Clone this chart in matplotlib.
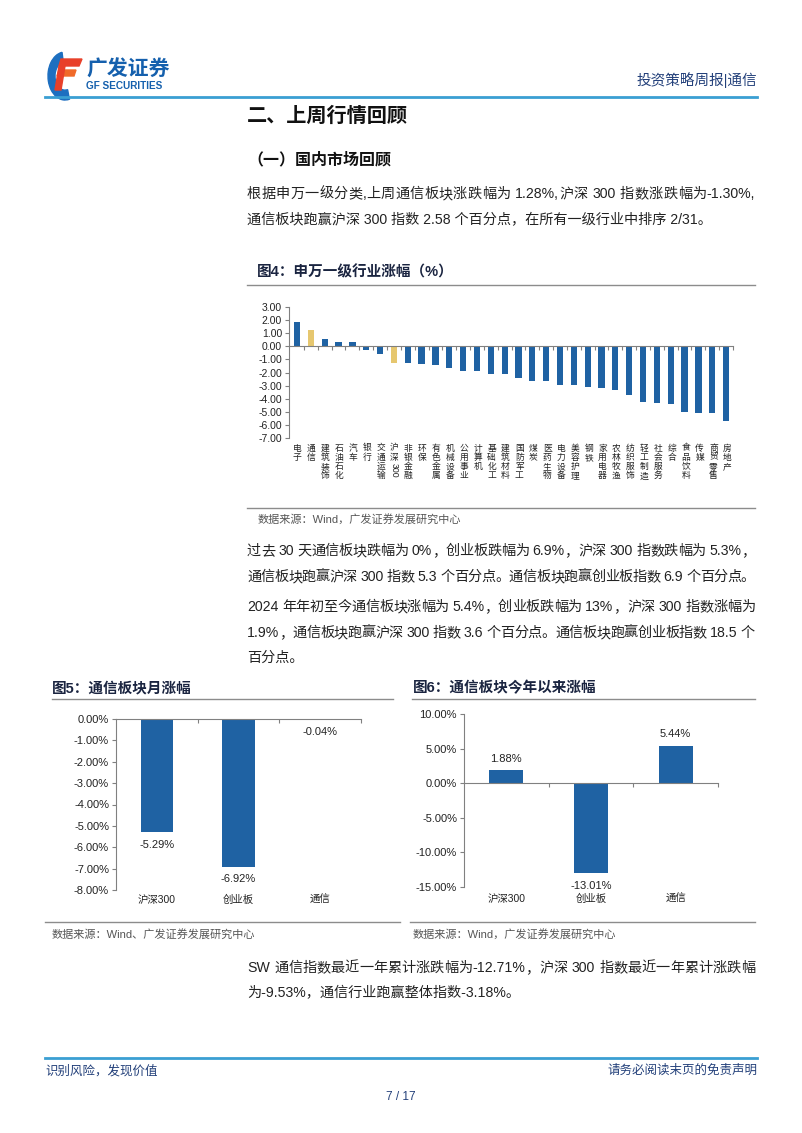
import matplotlib
matplotlib.use("Agg")
import matplotlib.pyplot as plt
from matplotlib.patches import Polygon, Wedge
from matplotlib.ticker import FuncFormatter
from matplotlib.lines import Line2D

plt.rcParams['font.family'] = ['Liberation Sans', 'Noto Sans CJK SC', 'DejaVu Sans']

W, H = 802, 1133

# 图4 申万一级行业涨幅
industries = ['电子', '通信', '建筑装饰', '石油石化', '汽车', '银行', '交通运输', '沪深300',
              '非银金融', '环保', '有色金属', '机械设备', '公用事业', '计算机', '基础化工',
              '建筑材料', '国防军工', '煤炭', '医药生物', '电力设备', '美容护理', '钢铁',
              '家用电器', '农林牧渔', '纺织服饰', '轻工制造', '社会服务', '综合', '食品饮料',
              '传媒', '商贸零售', '房地产']
weekly_pct = [1.85, 1.28, 0.53, 0.35, 0.35, -0.25, -0.58, -1.30,
              -1.30, -1.35, -1.40, -1.68, -1.85, -1.90, -2.10,
              -2.15, -2.40, -2.62, -2.68, -2.92, -2.98, -3.13,
              -3.22, -3.30, -3.70, -4.22, -4.30, -4.42, -4.98,
              -5.08, -5.12, -5.70]
highlight = ['通信', '沪深300']

# 图5 / 图6
groups = ['沪深300', '创业板', '通信']
month_pct = [-5.29, -6.92, -0.04]
ytd_pct = [1.88, -13.01, 5.44]

BLUE = '#1f62a3'
GOLD = '#e6c76f'
TXT = '#222222'
NAVY = '#23407a'
AX = '#808080'


def fx(x):
    return x / W


def fy(y):
    return 1 - y / H


def add_ax(fig, x0, y0, x1, y1):
    return fig.add_axes([fx(x0), fy(y1), (x1 - x0) / W, (y1 - y0) / H])


def text(fig, x, y, s, size=10.2, **kw):
    kw.setdefault('color', TXT)
    kw.setdefault('va', 'center')
    return fig.text(fx(x), fy(y), s, fontsize=size, **kw)


def justify(fig, x0, x1, y, s, size=10.2):
    """spread one line of body text from x0 to x1, like the justified pdf text"""
    r = fig.canvas.get_renderer()
    toks = []
    buf = ''
    for ch in s:
        if ord(ch) < 128 and ch != ' ':
            buf += ch
        else:
            if buf:
                toks.append(buf)
                buf = ''
            toks.append(ch)
    if buf:
        toks.append(buf)
    arts, widths = [], []
    for t in toks:
        if t == ' ':
            arts.append(None)
            widths.append(size * 100 / 72 * 0.28)
        else:
            a = text(fig, 0, y, t, size=size)
            arts.append(a)
            widths.append(a.get_window_extent(r).width)
    gap = (x1 - x0 - sum(widths)) / (len(toks) - 1)
    x = x0
    for a, w in zip(arts, widths):
        if a is not None:
            a.set_x(fx(x))
        x += w + gap


def hline(fig, x0, x1, y, color='#8c8c8c', lw=1.0):
    fig.add_artist(Line2D([fx(x0), fx(x1)], [fy(y), fy(y)], color=color, lw=lw))


def style_axes(ax):
    for side in ['top', 'right']:
        ax.spines[side].set_visible(False)
    ax.spines['left'].set_color(AX)
    ax.spines['bottom'].set_color(AX)
    ax.spines['left'].set_linewidth(0.8)
    ax.spines['bottom'].set_linewidth(0.8)
    ax.spines['bottom'].set_position(('data', 0))
    ax.tick_params(axis='y', direction='out', length=3, color=AX, pad=2)
    ax.tick_params(axis='x', direction='out', length=3, color=AX, labelbottom=False)
    ax.patch.set_alpha(0)


fig = plt.figure(figsize=(W / 100, H / 100), dpi=100)

# ---- header
fig.add_artist(Wedge((fx(65), fy(76)), 17 / W, 100, 285, width=7 / W,
                     transform=fig.transFigure, color='#1d6fc0'))
fig.add_artist(Polygon([(fx(61), fy(59)), (fx(82), fy(59)), (fx(79), fy(66)), (fx(59), fy(66))],
                       closed=True, transform=fig.transFigure, color='#e8402a'))
fig.add_artist(Polygon([(fx(59), fy(70)), (fx(76), fy(70)), (fx(74), fy(76)), (fx(57), fy(76))],
                       closed=True, transform=fig.transFigure, color='#f06a2a'))
fig.add_artist(Polygon([(fx(59), fy(66)), (fx(65), fy(66)), (fx(61), fy(90)), (fx(55), fy(90))],
                       closed=True, transform=fig.transFigure, color='#e8402a'))
text(fig, 86, 70, '广发证券', size=15, color='#1560ad', weight='bold')
text(fig, 86, 86, 'GF SECURITIES', size=7.2, color='#1560ad', weight='bold')
text(fig, 757, 80, '投资策略周报|通信', size=10.5, color=NAVY, ha='right')
hline(fig, 45, 757, 97, color='#3a9fd3', lw=2)

# ---- section text
text(fig, 247, 116, '二、上周行情回顾', size=14.5, weight='bold', color='#111111')
text(fig, 247, 160, '（一）国内市场回顾', size=11.5, weight='bold', color='#111111')
justify(fig, 247, 755, 194, '根据申万一级分类,上周通信板块涨跌幅为 1.28%,沪深 300 指数涨跌幅为-1.30%,')
text(fig, 247, 220, '通信板块跑赢沪深 300 指数 2.58 个百分点，在所有一级行业中排序 2/31。')

text(fig, 257, 272, '图4：申万一级行业涨幅（%）', size=10.5, weight='bold', color='#1a2440')
hline(fig, 247, 755, 285)

# ---- 图4
ax = add_ax(fig, 289, 307, 733, 438)
xs = list(range(len(industries)))
colors = [GOLD if name in highlight else BLUE for name in industries]
ax.bar(xs, weekly_pct, width=0.45, color=colors)
ax.set_xlim(-0.58, len(industries) - 0.55)
ax.set_ylim(-7, 3)
ax.set_yticks(range(-7, 4))
ax.yaxis.set_major_formatter(FuncFormatter(lambda v, p: f'{v:.2f}'))
ax.set_xticks([i + 0.5 for i in xs])
style_axes(ax)
ax.tick_params(axis='y', labelsize=7.5, labelcolor=TXT)

step = 9.3
for i, name in enumerate(industries):
    xc = 297 + i * (733 - 289) / len(industries) + 0.3
    cjk = [c for c in name if not c.isdigit()]
    digits = ''.join(c for c in name if c.isdigit())
    for k, ch in enumerate(cjk):
        text(fig, xc, 448 + k * step, ch, size=6.3, ha='center')
    if digits:
        text(fig, xc, 448 + len(cjk) * step - 4, digits, size=6.3, ha='center',
             va='top', rotation=270)

hline(fig, 247, 755, 508)
text(fig, 258, 519, '数据来源：Wind，广发证券发展研究中心', size=8, color='#555555')

justify(fig, 247, 755, 551, '过去 30 天通信板块跌幅为 0%，创业板跌幅为 6.9%，沪深 300 指数跌幅为 5.3%，')
justify(fig, 247, 755, 577, '通信板块跑赢沪深 300 指数 5.3 个百分点。通信板块跑赢创业板指数 6.9 个百分点。')
justify(fig, 247, 755, 607, '2024 年年初至今通信板块涨幅为 5.4%，创业板跌幅为 13%，沪深 300 指数涨幅为')
justify(fig, 247, 755, 633, '1.9%，通信板块跑赢沪深 300 指数 3.6 个百分点。通信板块跑赢创业板指数 18.5 个')
text(fig, 247, 658, '百分点。')

# ---- 图5
text(fig, 52, 688, '图5：通信板块月涨幅', size=10.5, weight='bold', color='#1a2440')
hline(fig, 52, 393, 699)
ax5 = add_ax(fig, 116, 719, 361, 890)
gx = list(range(len(groups)))
ax5.bar(gx, month_pct, width=0.4, color=BLUE)
ax5.set_xlim(-0.5, 2.5)
ax5.set_ylim(-8, 0)
ax5.set_yticks(range(-8, 1))
ax5.yaxis.set_major_formatter(FuncFormatter(lambda v, p: f'{v:.2f}%'))
ax5.set_xticks([0.5, 1.5, 2.5])
style_axes(ax5)
ax5.tick_params(axis='y', labelsize=8, labelcolor=TXT)
for i, v in enumerate(month_pct):
    ax5.annotate(f'{v:.2f}%', (i, v), xytext=(0, -9), textcoords='offset points',
                 ha='center', va='center', fontsize=8, color=TXT)
    ax5.text(i, -0.06, groups[i], transform=ax5.get_xaxis_transform(),
             ha='center', va='center', fontsize=7.5, color=TXT)

# ---- 图6
text(fig, 413, 688, '图6：通信板块今年以来涨幅', size=10.5, weight='bold', color='#1a2440')
hline(fig, 412, 755, 699)
ax6 = add_ax(fig, 464, 714, 718, 887)
ax6.bar(gx, ytd_pct, width=0.4, color=BLUE)
ax6.set_xlim(-0.5, 2.5)
ax6.set_ylim(-15, 10)
ax6.set_yticks(range(-15, 11, 5))
ax6.yaxis.set_major_formatter(FuncFormatter(lambda v, p: f'{v:.2f}%'))
ax6.set_xticks([0.5, 1.5, 2.5])
style_axes(ax6)
ax6.tick_params(axis='y', labelsize=8, labelcolor=TXT)
for i, v in enumerate(ytd_pct):
    off = 8 if v > 0 else -9
    ax6.annotate(f'{v:.2f}%', (i, v), xytext=(0, off), textcoords='offset points',
                 ha='center', va='center', fontsize=8, color=TXT)
    ax6.text(i, -0.07, groups[i], transform=ax6.get_xaxis_transform(),
             ha='center', va='center', fontsize=7.5, color=TXT)

hline(fig, 45, 400, 922)
hline(fig, 410, 755, 922)
text(fig, 52, 934, '数据来源：Wind、广发证券发展研究中心', size=8, color='#555555')
text(fig, 413, 934, '数据来源：Wind，广发证券发展研究中心', size=8, color='#555555')

justify(fig, 247, 755, 968, 'SW 通信指数最近一年累计涨跌幅为-12.71%，沪深 300 指数最近一年累计涨跌幅')
text(fig, 247, 993, '为-9.53%，通信行业跑赢整体指数-3.18%。')

# ---- footer
hline(fig, 45, 757, 1058, color='#3a9fd3', lw=2)
text(fig, 45, 1071, '识别风险，发现价值', size=9, color=NAVY)
text(fig, 757, 1071, '请务必阅读末页的免责声明', size=9, color=NAVY, ha='right')
text(fig, 401, 1097, '7 / 17', size=8.5, color=NAVY, ha='center')

fig.savefig('out.png', dpi=100)
